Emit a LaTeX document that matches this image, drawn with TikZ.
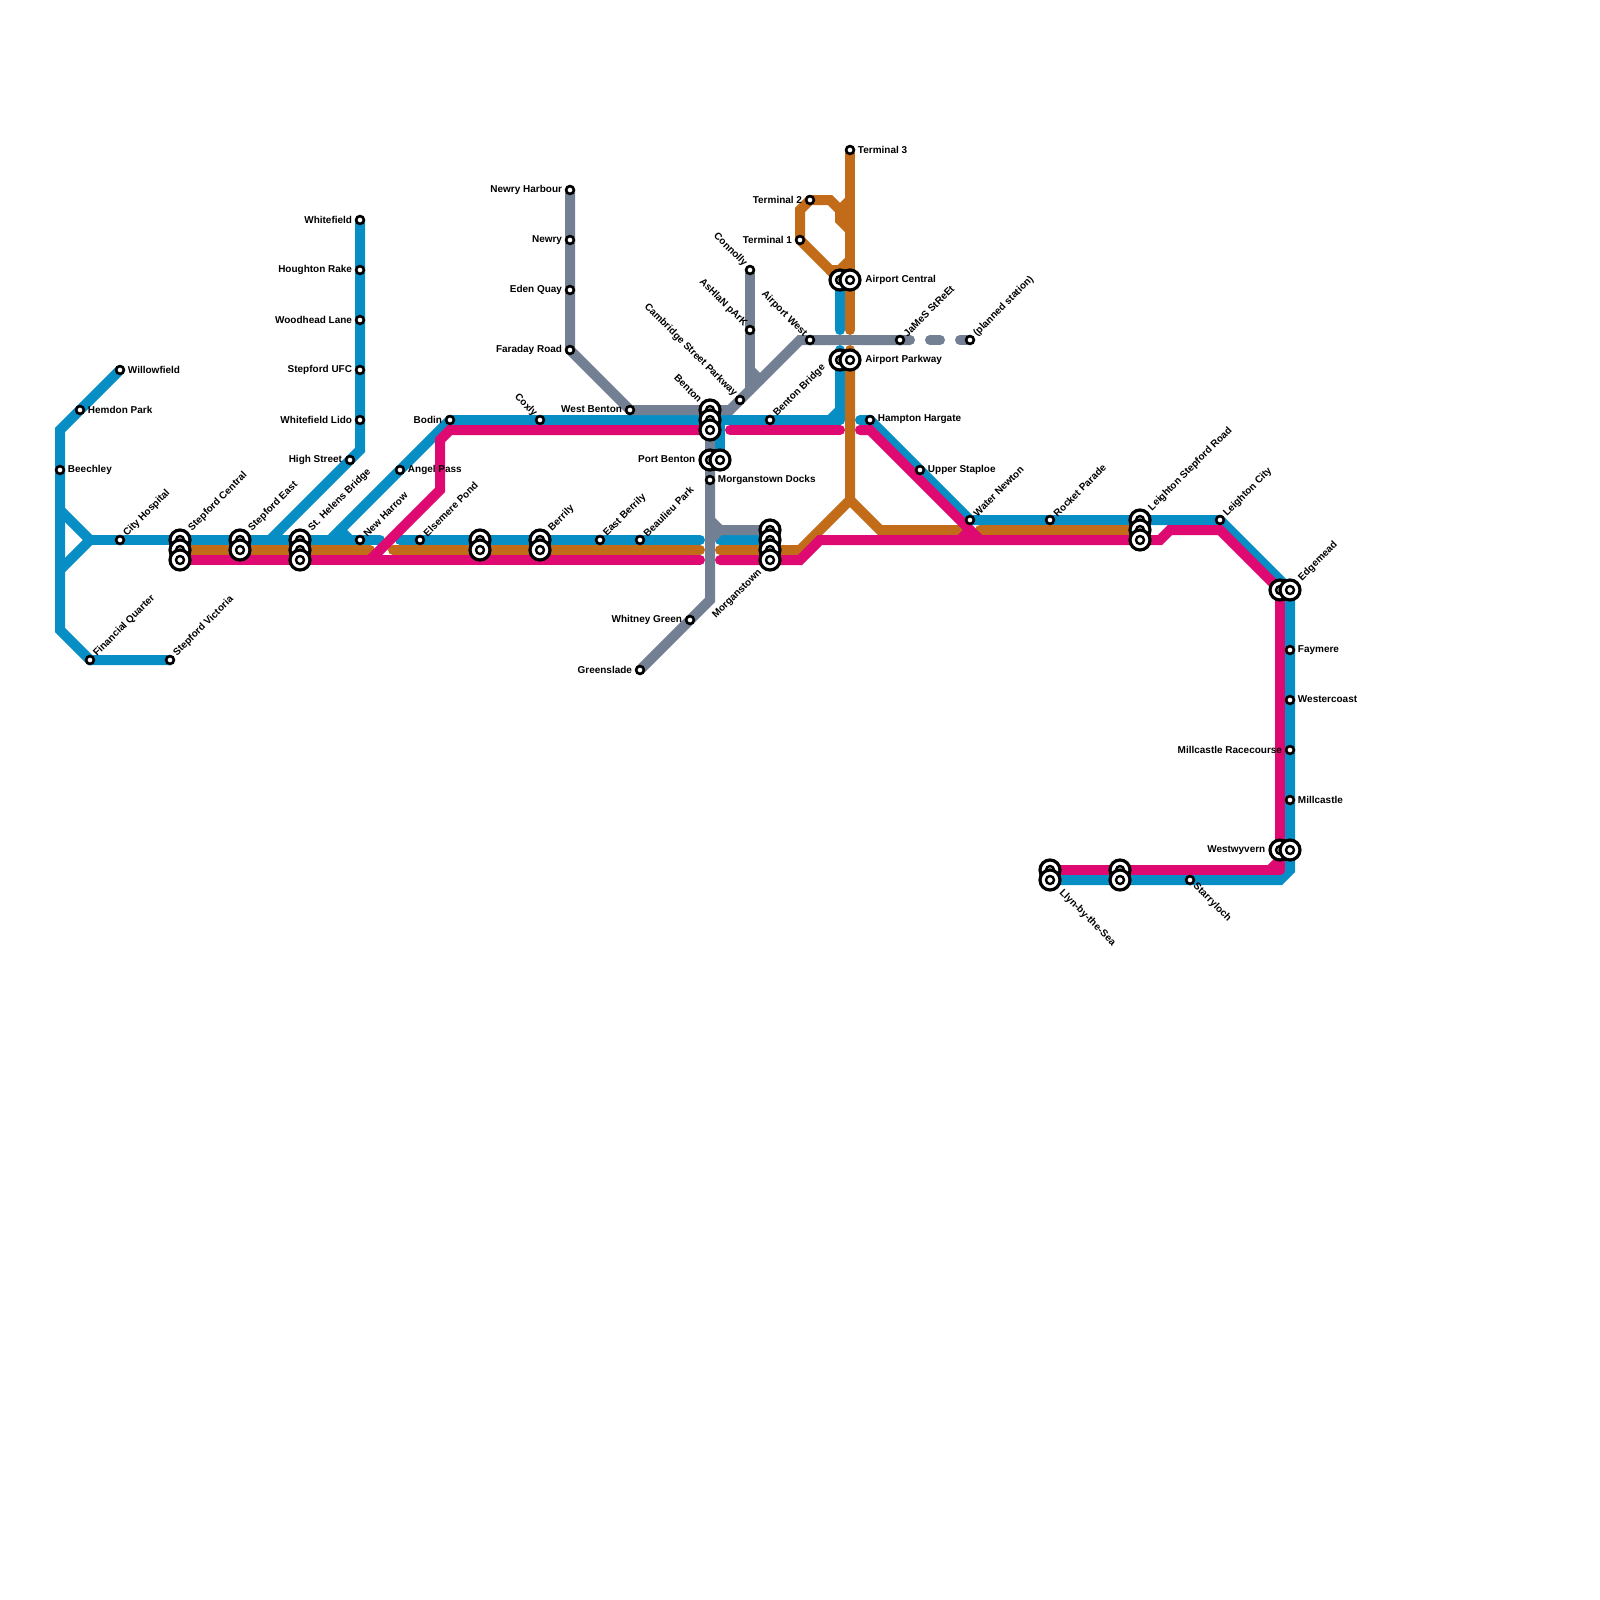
\documentclass[tikz,border=0pt]{standalone}
\usepackage{fontspec}
\setmainfont{Liberation Sans}
\usetikzlibrary{backgrounds}
\definecolor{lineblue}{RGB}{6,142,197}
\definecolor{lineorange}{RGB}{194,108,25}
\definecolor{linepink}{RGB}{222,10,114}
\definecolor{linegray}{RGB}{115,127,146}
\tikzset{
  stop/.style={draw=black,shape=circle,fill=white,minimum size=.195cm,line width=.065cm,inner sep=0},
  hubdot/.style={draw=black,shape=circle,fill=white,minimum size=.2cm,line width=.06cm,inner sep=0},
  hub/.style={draw=black,shape=circle,fill=white,minimum size=.5cm,line width=.08cm,inner sep=0,label={[hubdot]center:{}}},
  route/.style={line width=.25cm,line cap=round,line join=miter},
  txt/.style={font=\bfseries\fontsize{7.1}{8}\selectfont,inner sep=0,text=black},
  lblE/.style={label={[txt,xshift=.0625cm,yshift=.01cm]0:#1}},
  lblW/.style={label={[txt,xshift=-.0625cm,yshift=.01cm]180:#1}},
  lblNE/.style={label={[txt,xshift=-.005cm,yshift=.125cm,rotate=45]0:#1}},
  lblNW/.style={label={[txt,xshift=.0175cm,yshift=.12cm,rotate=-45]180:#1}},
  lblSE/.style={label={[txt,xshift=-.0175cm,yshift=-.12cm,rotate=-45]0:#1}},
  hubE/.style={label={[txt,xshift=.09cm,yshift=.01cm]0:#1}},
  hubW/.style={label={[txt,xshift=-.07cm,yshift=.01cm]180:#1}},
  hubNE/.style={label={[txt,xshift=-.04cm,yshift=.26cm,rotate=45]0:#1}},
  hubNW/.style={label={[txt,xshift=.0525cm,yshift=.23cm,rotate=-45]180:#1}},
  hubSE/.style={label={[txt,xshift=-.02cm,yshift=-.275cm,rotate=-45]0:#1}},
  hubSW/.style={label={[txt,xshift=.05cm,yshift=-.275cm,rotate=45]180:#1}},
}
\begin{document}
\begin{tikzpicture}[x=.25cm,y=-.25cm]
  \useasboundingbox (0,0) rectangle (160,160);
  % West end
  \node[stop,lblE=Willowfield] (willowfield) at (12,37) {};
  \node[stop,lblE=Hemdon Park] (hemdon) at (8,41) {};
  \node[stop,lblE=Beechley] (beechley) at (6,47) {};
  \node[stop,lblNE=City Hospital] (cityhospital) at (12,54) {};
  \node[stop,lblNE=Financial Quarter] (financial) at (9,66) {};
  \node[stop,lblNE=Stepford Victoria] (victoria) at (17,66) {};
  \node[hub,hubNE=Stepford Central] (centralA) at (18,54) {};
  \node[hub] (centralB) at (18,55) {};
  \node[hub] (centralC) at (18,56) {};
  \node[hub,hubNE=Stepford East] (eastA) at (24,54) {};
  \node[hub] (eastB) at (24,55) {};
  \node[hub,hubNE=St. Helens Bridge] (helensA) at (30,54) {};
  \node[hub] (helensB) at (30,55) {};
  \node[hub] (helensC) at (30,56) {};
  % Whitefield branch
  \node[stop,lblW=Whitefield] (whitefield) at (36,22) {};
  \node[stop,lblW=Houghton Rake] (houghton) at (36,27) {};
  \node[stop,lblW=Woodhead Lane] (woodhead) at (36,32) {};
  \node[stop,lblW=Stepford UFC] (ufc) at (36,37) {};
  \node[stop,lblW=Whitefield Lido] (lido) at (36,42) {};
  \node[stop,lblW=High Street] (highst) at (35,46) {};
  % Middle
  \node[stop,lblNE=New Harrow] (newharrow) at (36,54) {};
  \node[stop,lblE=Angel Pass] (angel) at (40,47) {};
  \node[stop,lblW=Bodin] (bodin) at (45,42) {};
  \node[stop,lblNE=Elsemere Pond] (elsemere) at (42,54) {};
  \node[hub] (midA) at (48,54) {};
  \node[hub] (midB) at (48,55) {};
  \node[stop,lblNW=Coxly] (coxly) at (54,42) {};
  \node[hub,hubNE=Berrily] (berrilyA) at (54,54) {};
  \node[hub] (berrilyB) at (54,55) {};
  \node[stop,lblNE=East Berrily] (eastberrily) at (60,54) {};
  \node[stop,lblNE=Beaulieu Park] (beaulieu) at (64,54) {};
  \node[stop,lblW=West Benton] (westbenton) at (63,41) {};
  % Newry branch
  \node[stop,lblW=Newry Harbour] (newryharbour) at (57,19) {};
  \node[stop,lblW=Newry] (newry) at (57,24) {};
  \node[stop,lblW=Eden Quay] (eden) at (57,29) {};
  \node[stop,lblW=Faraday Road] (faraday) at (57,35) {};
  % Benton
  \node[hub,hubNW=Benton] (bentonA) at (71,41) {};
  \node[hub] (bentonB) at (71,42) {};
  \node[hub] (bentonC) at (71,43) {};
  \node[hub,hubW=Port Benton] (portA) at (71,46) {};
  \node[hub] (portB) at (72,46) {};
  \node[stop,lblE=Morganstown Docks] (docks) at (71,48) {};
  \node[stop,lblW=Whitney Green] (whitney) at (69,62) {};
  \node[stop,lblW=Greenslade] (greenslade) at (64,67) {};
  \node[hub] (morgA) at (77,53) {};
  \node[hub] (morgB) at (77,54) {};
  \node[hub] (morgC) at (77,55) {};
  \node[hub,hubSW=Morganstown] (morgD) at (77,56) {};
  \node[stop,lblNE=Benton Bridge] (bentonbridge) at (77,42) {};
  \node[stop,lblNW=Connolly] (connolly) at (75,27) {};
  \node[stop,lblNW=AsHlaN pArK] (ashlan) at (75,33) {};
  \node[stop,lblNW=Cambridge Street Parkway] (cambridge) at (74,40) {};
  \node[stop,lblNW=Airport West] (airportwest) at (81,34) {};
  \node[stop,lblNE=JaMeS StReEt] (james) at (90,34) {};
  \node[stop,lblNE=(planned station)] (planned) at (97,34) {};
  % Airport
  \node[stop,lblE=Terminal 3] (terminalC) at (85,15) {};
  \node[stop,lblW=Terminal 2] (terminalB) at (81,20) {};
  \node[stop,lblW=Terminal 1] (terminalA) at (80,24) {};
  \node[hub] (aircentralA) at (84,28) {};
  \node[hub,hubE=Airport Central] (aircentralB) at (85,28) {};
  \node[hub] (parkwayA) at (84,36) {};
  \node[hub,hubE=Airport Parkway] (parkwayB) at (85,36) {};
  % East
  \node[stop,lblE=Hampton Hargate] (hampton) at (87,42) {};
  \node[stop,lblE=Upper Staploe] (staploe) at (92,47) {};
  \node[stop,lblNE=Water Newton] (water) at (97,52) {};
  \node[stop,lblNE=Rocket Parade] (rocket) at (105,52) {};
  \node[hub,hubNE=Leighton Stepford Road] (leightonA) at (114,52) {};
  \node[hub] (leightonB) at (114,53) {};
  \node[hub] (leightonC) at (114,54) {};
  \node[stop,lblNE=Leighton City] (leightoncity) at (122,52) {};
  \node[hub] (edgeA) at (128,59) {};
  \node[hub,hubNE=Edgemead] (edgeB) at (129,59) {};
  \node[stop,lblE=Faymere] (faymere) at (129,65) {};
  \node[stop,lblE=Westercoast] (westercoast) at (129,70) {};
  \node[stop,lblW=Millcastle Racecourse] (racecourse) at (129,75) {};
  \node[stop,lblE=Millcastle] (millcastle) at (129,80) {};
  \node[hub,hubW=Westwyvern] (wyvernA) at (128,85) {};
  \node[hub] (wyvernB) at (129,85) {};
  \node[hub] (llynA) at (105,87) {};
  \node[hub,hubSE=Llyn-by-the-Sea] (llynB) at (105,88) {};
  \node[hub] (sandsA) at (112,87) {};
  \node[hub] (sandsB) at (112,88) {};
  \node[stop,lblSE=Starryloch] (starry) at (119,88) {};
  \begin{pgfonlayer}{background}
    % Blue line
    \draw[route,lineblue] (willowfield.center) -- (6,43) -- (6,63) -- (financial.center) -- (victoria.center);
    \draw[route,lineblue] (6,51) -- (9,54) -- (6,57);
    \draw[route,lineblue] (9,54) -- (38,54);
    \draw[route,lineblue] (whitefield.center) -- (36,45) -- (27,54);
    \draw[route,lineblue] (33,54) -- (bodin.center) -- (84,42);
    \draw[route,lineblue] (34,53) -- (35,54);
    \draw[route,lineblue] (40,54) -- (70,54);
    \draw[route,lineblue] (72,54) -- (morgB.center);
    \draw[route,lineblue,line join=round] (aircentralA.center) -- (84,33);
    \draw[route,lineblue,line join=round] (84,35) -- (84,42) -- (bentonbridge.center);
    \draw[route,lineblue] (83,42) -- (84,41);
    \draw[route,lineblue] (72,42) -- (portB.center);
    \draw[route,lineblue] (86,42) -- (hampton.center) -- (water.center) -- (leightoncity.center) -- (edgeB.center) -- (129,87) -- (128,88) -- (llynB.center);
    % Orange line
    \draw[route,lineorange] (centralB.center) -- (37,55);
    \draw[route,lineorange] (39.3,55) -- (70,55);
    \draw[route,lineorange] (72,55) -- (80,55) -- (85,50) -- (85,35);
    \draw[route,lineorange] (85,50) -- (88,53) -- (96,53);
    \draw[route,lineorange] (98,53) -- (leightonB.center);
    \draw[route,lineorange] (terminalC.center) -- (85,33);
    \draw[route,lineorange] (terminalA.center) -- (80,21) -- (terminalB.center) -- (83,20) -- (84,21) -- (84,22) -- (85,23);
    \draw[route,lineorange] (84,21) -- (85,20);
    \draw[route,lineorange] (terminalA.center) -- (83,27) -- (84,27) -- (85,26);
    \draw[route,lineorange] (83,27) -- (aircentralA.center);
    % Pink line
    \draw[route,linepink] (centralC.center) -- (70,56);
    \draw[route,linepink] (37,56) -- (44,49) -- (44,44) -- (45,43) -- (70,43);
    \draw[route,linepink] (73,43) -- (84,43);
    \draw[route,linepink] (86,43) -- (87,43) -- (98,54);
    \draw[route,linepink] (96,54) -- (97,53);
    \draw[route,linepink] (72,56) -- (80,56) -- (82,54) -- (116,54) -- (117,53) -- (122,53) -- (edgeA.center);
    \draw[route,linepink,line join=round] (edgeA.center) -- (128,87) -- (llynA.center);
    \draw[route,linepink] (127,87) -- (128,86);
    % Gray line
    \draw[route,linegray] (newryharbour.center) -- (faraday.center) -- (westbenton.center) -- (73,41) -- (80,34) -- (91,34);
    \draw[route,linegray] (93,34) -- (94,34);
    \draw[route,linegray] (96,34) -- (planned.center);
    \draw[route,linegray] (connolly.center) -- (75,39);
    \draw[route,linegray] (75,37) -- (76,38);
    \draw[route,linegray] (bentonA.center) -- (71,60) -- (greenslade.center);
    \draw[route,linegray] (71,52) -- (72,53) -- (morgA.center);
    \draw[route,linegray] (72,53) -- (71,54);
  \end{pgfonlayer}
\end{tikzpicture}
\end{document}
